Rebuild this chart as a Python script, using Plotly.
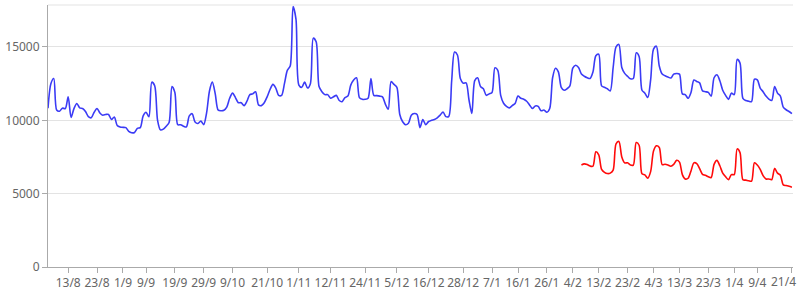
import pandas as pd
import plotly.graph_objects as go

start_date = "2020-08-06"
end_date = "2021-04-21"

blue_values = [
    10830, 12500, 12850, 10700, 10620, 10830, 10800, 11600, 10200, 10800,
    11150, 10850, 10800, 10600, 10250, 10170, 10550, 10800, 10500, 10350,
    10400, 10400, 10050, 10230, 9650, 9550, 9520, 9500, 9250, 9150,
    9170, 9450, 9500, 10300, 10550, 10250, 12600, 12350, 10000, 9350,
    9400, 9600, 9850, 12300, 11900, 9700, 9700, 9600, 9550, 10300,
    10450, 9880, 9780, 9950, 9700, 10500, 12000, 12600, 11800, 10700,
    10650, 10680, 10900, 11500, 11850, 11550, 11200, 11200, 11000, 11300,
    11750, 11800, 11950, 11050, 11000, 11200, 11600, 12100, 12450, 12200,
    11700, 11700, 12500, 13400, 13700, 17750, 16900, 12400, 12250, 12600,
    12200, 12500, 15600, 15350, 12300, 11950, 11750, 11750, 11500, 11600,
    11700, 11350, 11270, 11550, 11650, 12400, 12750, 12900, 11550, 11430,
    11430, 11500, 12850, 11700, 11680, 11650, 11600, 11100, 10750, 12640,
    12450, 12250, 10400, 9900, 9700, 9800, 10350, 10460, 10400, 9500,
    10050, 9700, 9920, 10000, 10050, 10170, 10350, 10570, 10250, 10270,
    12700, 14650, 14450, 12850, 12530, 12550, 11400, 10460, 12700, 12900,
    12300, 12150, 11700, 11800, 11900, 13580, 13400, 11700, 11160, 10950,
    10850, 11000, 11150, 11650, 11500, 11430, 11300, 11050, 10800, 10980,
    10950, 10650, 10700, 10550, 10800, 12900, 13550, 13300, 12250, 12050,
    12150, 12350, 13550, 13750, 13600, 13150, 13000, 12900, 12850, 13300,
    14400, 14500, 12350, 12250, 12150, 12000, 13600, 15000, 15170, 13600,
    13200, 13000, 12830, 12850, 14600, 14350, 12050, 11850, 11550, 12750,
    14850, 15050, 13700, 13150, 13040, 12950, 12880, 13150, 13190, 13150,
    11800, 11750, 11500, 11900, 12750, 12650, 12550, 12000, 11950, 11900,
    11650, 12900, 13100, 12700, 12050, 11700, 11430, 11850, 11750, 14150,
    13900, 11500, 11350, 11300, 11270, 12800, 12750, 12200, 11950, 11650,
    11450, 11350, 12300, 11850, 11650, 10900, 10720, 10600, 10450,
]

red_start_date = "2021-02-07"
red_values = [
    6950, 7030, 6980, 6880, 6870, 7850, 7650, 6650, 6450, 6370,
    6400, 6600, 8400, 8560, 7500, 7100, 7100, 6950, 6950, 8480,
    8300, 6350, 6280, 6050, 6500, 7900, 8260, 8150, 6980, 7000,
    6950, 6870, 7000, 7270, 7150, 6300, 6000, 6050, 6550, 7100,
    7050, 6700, 6320, 6250, 6150, 6100, 7000, 7270, 6900, 6400,
    6150, 5950, 6300, 6300, 8050, 7800, 5950, 5920, 5880, 5850,
    7100, 6950, 6650, 6230, 6000, 6000, 5950, 6720, 6400, 6250,
    5600, 5550, 5500, 5440,
]

tick_dates = [
    "2020-08-13", "2020-08-23", "2020-09-01", "2020-09-09", "2020-09-19",
    "2020-09-29", "2020-10-09", "2020-10-21", "2020-11-01", "2020-11-12",
    "2020-11-24", "2020-12-05", "2020-12-16", "2020-12-28", "2021-01-07",
    "2021-01-16", "2021-01-26", "2021-02-04", "2021-02-13", "2021-02-23",
    "2021-03-04", "2021-03-13", "2021-03-23", "2021-04-01", "2021-04-09",
    "2021-04-21",
]
tick_labels = [
    "13/8", "23/8", "1/9", "9/9", "19/9", "29/9", "9/10", "21/10", "1/11",
    "12/11", "24/11", "5/12", "16/12", "28/12", "7/1", "16/1", "26/1", "4/2",
    "13/2", "23/2", "4/3", "13/3", "23/3", "1/4", "9/4", "21/4",
]
y_ticks = [0, 5000, 10000, 15000]
y_tick_labels = ["0", "5000", "10000", "15000"]

blue_dates = pd.date_range(start_date, end_date, freq="D")
red_dates = pd.date_range(red_start_date, end_date, freq="D")

fig = go.Figure()
fig.add_trace(go.Scatter(
    x=blue_dates, y=blue_values, mode="lines",
    line=dict(color="#3b3bf5", width=1.6, shape="spline", smoothing=0.8),
    showlegend=False, hoverinfo="skip",
))
fig.add_trace(go.Scatter(
    x=red_dates, y=red_values, mode="lines",
    line=dict(color="#ff0a0a", width=1.6, shape="spline", smoothing=0.8),
    showlegend=False, hoverinfo="skip",
))

font = dict(family="Noto Sans, Open Sans, sans-serif", size=12, color="#666666")

# the last label would overflow the page edge, so it is drawn as an
# annotation pushed left (as the reference does)
shown_tick_labels = tick_labels[:-1] + [""]

fig.update_layout(
    width=801, height=296,
    margin=dict(l=44, r=8, t=5, b=21),
    paper_bgcolor="white", plot_bgcolor="white",
    font=font,
    xaxis=dict(
        type="date",
        range=[start_date, "2021-04-21T09:00"],
        tickmode="array", tickvals=tick_dates, ticktext=shown_tick_labels,
        showgrid=False, zeroline=False,
        showline=True, linecolor="#aaaaaa", linewidth=1,
        ticks="outside", ticklen=5, tickcolor="#aaaaaa",
        tickfont=font, tickangle=0,
    ),
    yaxis=dict(
        range=[0, 17860],
        tickmode="array", tickvals=y_ticks, ticktext=y_tick_labels,
        showgrid=True, gridcolor="#e3e3e3", gridwidth=1,
        zeroline=False,
        showline=True, linecolor="#aaaaaa", linewidth=1,
        ticks="outside", ticklen=5, tickcolor="#aaaaaa",
        tickfont=font,
    ),
    shapes=[dict(
        type="line", xref="paper", yref="paper", x0=0, x1=1, y0=1, y1=1,
        line=dict(color="#e3e3e3", width=1),
    )],
    annotations=[dict(
        x=tick_dates[-1], xref="x", y=0, yref="paper",
        text=tick_labels[-1], showarrow=False,
        xanchor="right", yanchor="top", xshift=6, yshift=-4,
        font=font,
    )],
)

fig.write_html("out.html")
